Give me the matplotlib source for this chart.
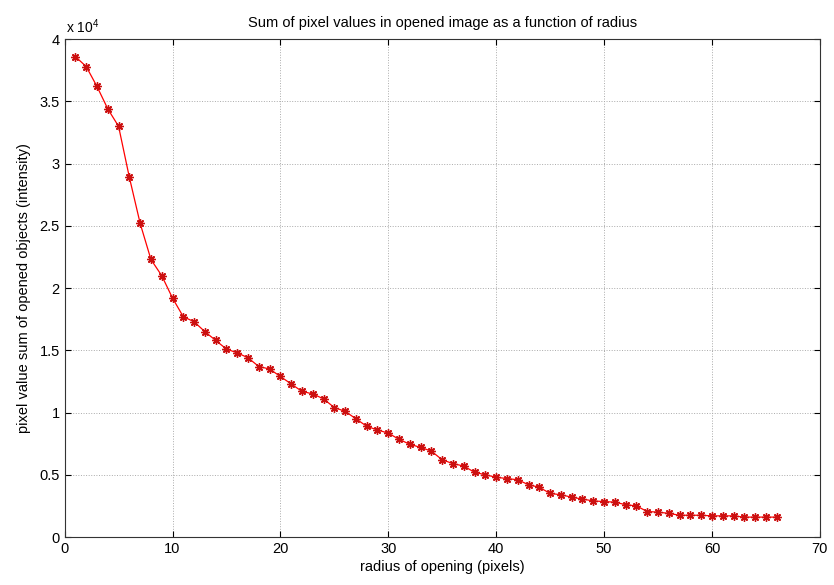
import matplotlib
matplotlib.use("Agg")
import matplotlib.pyplot as plt
from matplotlib.ticker import FuncFormatter, MultipleLocator

plt.rcParams['font.family'] = ['Liberation Sans', 'DejaVu Sans']
plt.rcParams['mathtext.fontset'] = 'custom'
plt.rcParams['mathtext.rm'] = 'Liberation Sans'

radius = list(range(1, 67))
intensity = [
    38600, 37800, 36200, 34400, 33000, 28900, 25200, 22300, 21000, 19200,
    17700, 17300, 16500, 15800, 15100, 14800, 14400, 13700, 13500, 12900,
    12300, 11700, 11500, 11100, 10400, 10100, 9500, 8900, 8600, 8350,
    7850, 7450, 7200, 6900, 6200, 5900, 5700, 5200, 5000, 4800,
    4700, 4600, 4200, 4000, 3500, 3400, 3200, 3050, 2900, 2850,
    2800, 2600, 2500, 2050, 2000, 1900, 1750, 1750, 1750, 1700,
    1700, 1700, 1600, 1600, 1600, 1600,
]

title = "Sum of pixel values in opened image as a function of radius"
xlabel = "radius of opening (pixels)"
ylabel = "pixel value sum of opened objects (intensity)"

fig = plt.figure(figsize=(8.34, 5.85), dpi=100)
ax = fig.add_axes([0.0775, 0.082, 0.9055, 0.851])

# MATLAB-style asterisk: eight-armed star marker
ax.plot(radius, intensity, color='red', linewidth=0.9, marker=(8, 2, 0),
        markersize=6, markeredgewidth=1.0, markeredgecolor='#cc1010')

ax.set_xlim(0, 70)
ax.set_ylim(0, 40000)
ax.xaxis.set_major_locator(MultipleLocator(10))
ax.yaxis.set_major_locator(MultipleLocator(5000))
ax.yaxis.set_major_formatter(FuncFormatter(lambda v, p: f"{v / 1e4:g}"))

ax.grid(True, linestyle=':', color='#aaaaaa', linewidth=0.7)
ax.tick_params(direction='in', top=True, right=True, labelsize=10.5,
               length=4, width=0.8, colors='black')
for s in ax.spines.values():
    s.set_linewidth(0.8)
    s.set_color('#333333')

ax.text(0.002, 1.006, r"x 10$^{4}$", transform=ax.transAxes,
        fontsize=10, ha='left', va='bottom')
ax.set_title(title, fontsize=10.5, pad=9)
ax.set_xlabel(xlabel, fontsize=10.5, labelpad=3)
ax.set_ylabel(ylabel, fontsize=10.5, labelpad=6)

fig.savefig("out.png", dpi=100)
